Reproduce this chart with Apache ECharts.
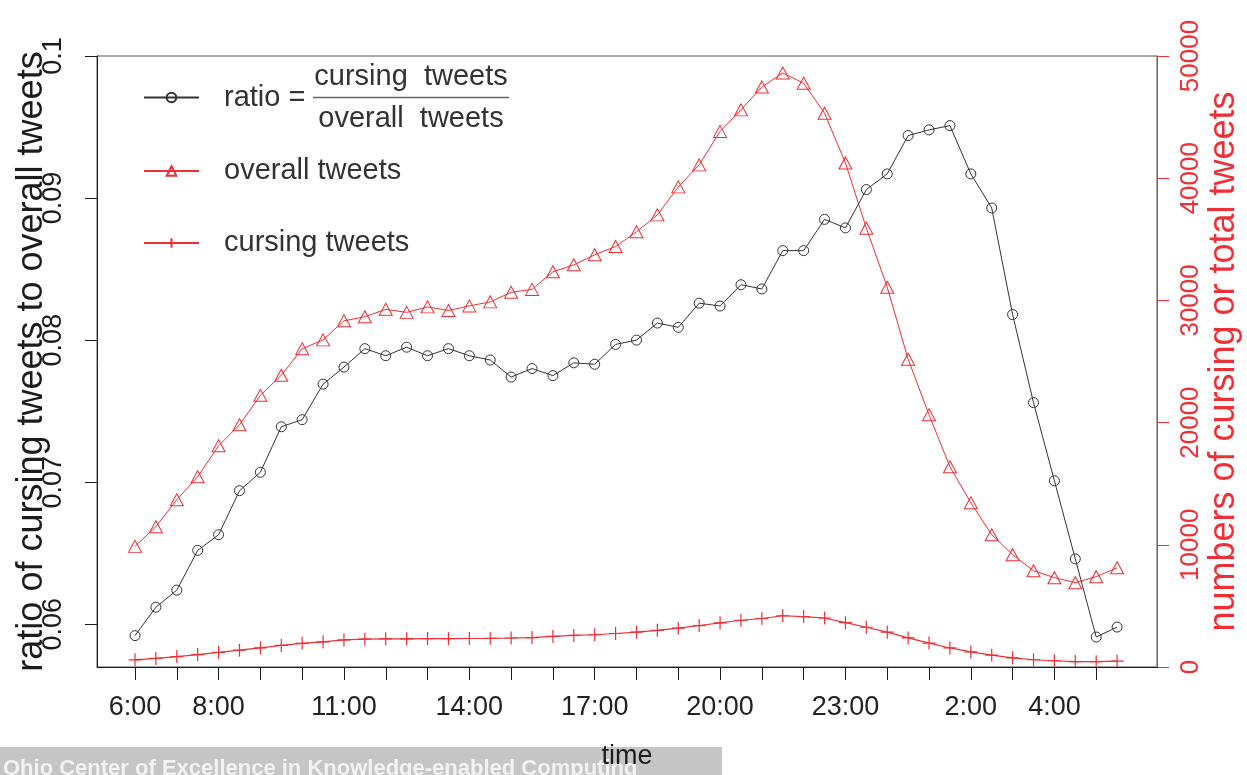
<!DOCTYPE html>
<html>
<head>
<meta charset="utf-8">
<script src="https://cdn.jsdelivr.net/npm/echarts@6/dist/echarts.min.js"></script>
<style>
  html, body { margin: 0; padding: 0; background: #fff; }
  #chart { width: 1247px; height: 775px; }
</style>
</head>
<body>
<div id="chart"></div>
<script>
// Half-hourly time slots over one day, starting at 6:00
const times = ['6:00','6:30','7:00','7:30','8:00','8:30','9:00','9:30','10:00','10:30',
  '11:00','11:30','12:00','12:30','13:00','13:30','14:00','14:30','15:00','15:30',
  '16:00','16:30','17:00','17:30','18:00','18:30','19:00','19:30','20:00','20:30',
  '21:00','21:30','22:00','22:30','23:00','23:30','0:00','0:30','1:00','1:30',
  '2:00','2:30','3:00','3:30','4:00','4:30','5:00','5:30'];

// Time labels printed under the x axis
const timeLabels = ['6:00','8:00','11:00','14:00','17:00','20:00','23:00','2:00','4:00'];

// Left axis tick labels (ratio)
const ratioTicks = ['0.06','0.07','0.08','0.09','0.1'];

// ratio = cursing tweets / overall tweets
const ratio = [0.0592,0.0612,0.0624,0.0652,0.0663,0.0694,0.0707,0.0739,0.0744,0.0769,
  0.0781,0.0794,0.0789,0.0795,0.0789,0.0794,0.0789,0.0786,0.0774,0.0780,
  0.0775,0.0784,0.0783,0.0797,0.0800,0.0812,0.0809,0.0826,0.0824,0.0839,
  0.0836,0.0863,0.0863,0.0885,0.0879,0.0906,0.0917,0.0944,0.0948,0.0951,
  0.0917,0.0893,0.0818,0.0756,0.0701,0.0646,0.0591,0.0598];

// Number of all tweets per slot
const overallTweets = [9870,11480,13690,15570,18100,19820,22230,23870,26040,26770,
  28330,28660,29270,29020,29470,29170,29550,29880,30660,30900,
  32340,32910,33730,34410,35610,37000,39290,41090,43830,45590,
  47470,48610,47770,45320,41250,35910,31080,25190,20640,16390,
  13440,10820,9190,7880,7310,6900,7390,8120];

// Number of cursing tweets per slot
const cursingTweets = [584,702,854,1015,1200,1375,1572,1764,1937,2059,
  2212,2275,2309,2307,2326,2316,2332,2349,2373,2411,
  2506,2580,2641,2742,2849,3004,3179,3394,3611,3825,
  3968,4195,4123,4011,3626,3253,2850,2378,1956,1558,
  1232,966,751,595,512,445,437,486];

const FONT = '"Liberation Sans", Arial, Helvetica, sans-serif';
const RED = '#ee2f36';
const INK = '#1c1c1c';
const GREY = '#333333';
const PLUS = 'path://M0,5L10,5M5,0L5,10';

// x positions are slot indices; ticks on the full hours, labels on selected hours
const pts = arr => arr.map((v, i) => [i, v]);
const hourTicks = times.map((t, i) => (t.endsWith(':00') ? i : -1)).filter(i => i >= 0);
const labelIdx = timeLabels.map(t => times.indexOf(t));
const ratioTickValues = ratioTicks.map(Number);

const chart = echarts.init(document.getElementById('chart'), null, { renderer: 'canvas' });

const legendBase = {
  orient: 'vertical',
  left: 143,
  itemWidth: 55,
  itemHeight: 12,
  padding: 0,
  selectedMode: false,
  textStyle: { fontFamily: FONT, fontSize: 29, color: GREY, lineHeight: 30, padding: [0, 0, 0, 20] }
};

chart.setOption({
  animation: false,
  textStyle: { fontFamily: FONT },
  grid: {
    left: 97, right: 90, top: 56, bottom: 108,
    outerBoundsMode: 'none',
    containLabel: false,
    show: true, borderColor: '#555', borderWidth: 1, backgroundColor: 'transparent'
  },
  xAxis: {
    type: 'value',
    min: -1.819,
    max: 48.91,
    z: 5,
    name: 'time',
    nameLocation: 'middle',
    nameGap: 76,
    nameMoveOverlap: false,
    nameTextStyle: { fontFamily: FONT, fontSize: 27, color: INK },
    splitLine: { show: false },
    axisLine: { show: true, onZero: false, lineStyle: { color: INK, width: 1 } },
    axisTick: { show: true, length: 13, customValues: hourTicks, lineStyle: { color: INK, width: 1 } },
    axisLabel: {
      customValues: labelIdx,
      formatter: v => times[Math.round(v)],
      fontFamily: FONT, fontSize: 27, color: '#222', margin: 27
    }
  },
  yAxis: [
    {
      type: 'value',
      position: 'left',
      min: 0.05699,
      max: 0.1,
      name: 'ratio of cursing tweets to overall tweets',
      nameLocation: 'middle',
      nameRotate: 90,
      nameGap: 47,
      nameMoveOverlap: false,
      nameTextStyle: { fontFamily: FONT, fontSize: 36, color: INK },
      splitLine: { show: false },
      axisLine: { show: true, onZero: false, lineStyle: { color: INK, width: 1 } },
      axisTick: { show: true, length: 12, customValues: ratioTickValues, lineStyle: { color: INK } },
      axisLabel: {
        customValues: ratioTickValues,
        formatter: v => ratioTicks[ratioTickValues.findIndex(t => Math.abs(t - v) < 1e-9)],
        rotate: 90, fontFamily: FONT, fontSize: 27, color: INK, margin: 30
      }
    },
    {
      type: 'value',
      position: 'right',
      min: 0,
      max: 50000,
      interval: 10000,
      alignTicks: false,
      name: 'numbers of cursing or total tweets',
      nameLocation: 'middle',
      nameRotate: 90,
      nameGap: 49,
      nameMoveOverlap: false,
      nameTextStyle: { fontFamily: FONT, fontSize: 36, color: RED },
      splitLine: { show: false },
      axisLine: { show: true, onZero: false, lineStyle: { color: RED, width: 1 } },
      axisTick: { show: true, length: 12, lineStyle: { color: RED } },
      axisLabel: {
        formatter: v => String(v),
        rotate: 90, fontFamily: FONT, fontSize: 26, color: RED, margin: 21
      }
    }
  ],
  legend: [
    Object.assign({}, legendBase, {
      data: ['ratio'],
      top: 62,
      formatter: () => '{sp|}{num|cursing  tweets}\n{r|ratio =}{bar|}\n{sp|}{den|overall  tweets}',
      textStyle: {
        fontFamily: FONT, fontSize: 29, color: GREY, padding: [0, 0, 0, 20],
        rich: {
          sp: { width: 89, lineHeight: 21 },
          r: { width: 89, fontFamily: FONT, fontSize: 29, color: GREY, lineHeight: 21 },
          num: { width: 196, align: 'center', fontFamily: FONT, fontSize: 29, color: GREY, lineHeight: 21 },
          den: { width: 196, align: 'center', fontFamily: FONT, fontSize: 29, color: GREY, lineHeight: 21 },
          bar: { width: 196, height: 1.5, backgroundColor: '#666', lineHeight: 21 }
        }
      }
    }),
    Object.assign({}, legendBase, { data: ['overall tweets'], top: 156 }),
    Object.assign({}, legendBase, { data: ['cursing tweets'], top: 228 })
  ],
  graphic: {
    elements: [
      {
        type: 'rect', left: 0, top: 747, z: -10, silent: true,
        shape: { width: 722, height: 28 },
        style: { fill: '#c6c6c6' }
      },
      {
        type: 'text', left: 3, top: 758, z: -9, silent: true,
        style: {
          text: 'Ohio Center of Excellence in Knowledge-enabled Computing',
          fill: '#f2f2f2', font: 'bold 22px "Liberation Sans", Arial, sans-serif'
        }
      }
    ]
  },
  series: [
    {
      name: 'ratio',
      type: 'line',
      yAxisIndex: 0,
      data: pts(ratio),
      symbol: 'circle',
      symbolSize: 10,
      z: 4,
      lineStyle: { color: GREY, width: 1 },
      itemStyle: { color: 'rgba(255,255,255,0)', borderColor: GREY, borderWidth: 1 },
      emphasis: { disabled: true }
    },
    {
      name: 'overall tweets',
      type: 'line',
      yAxisIndex: 1,
      data: pts(overallTweets),
      symbol: 'triangle',
      symbolSize: [13, 12],
      z: 3,
      lineStyle: { color: RED, width: 1 },
      itemStyle: { color: 'rgba(255,255,255,0)', borderColor: RED, borderWidth: 1 },
      emphasis: { disabled: true }
    },
    {
      name: 'cursing tweets',
      type: 'line',
      yAxisIndex: 1,
      data: pts(cursingTweets),
      symbol: PLUS,
      symbolSize: 13,
      z: 3,
      lineStyle: { color: RED, width: 1.2 },
      itemStyle: { color: 'rgba(255,255,255,0)', borderColor: RED, borderWidth: 1.2 },
      emphasis: { disabled: true }
    }
  ]
});
</script>
</body>
</html>
